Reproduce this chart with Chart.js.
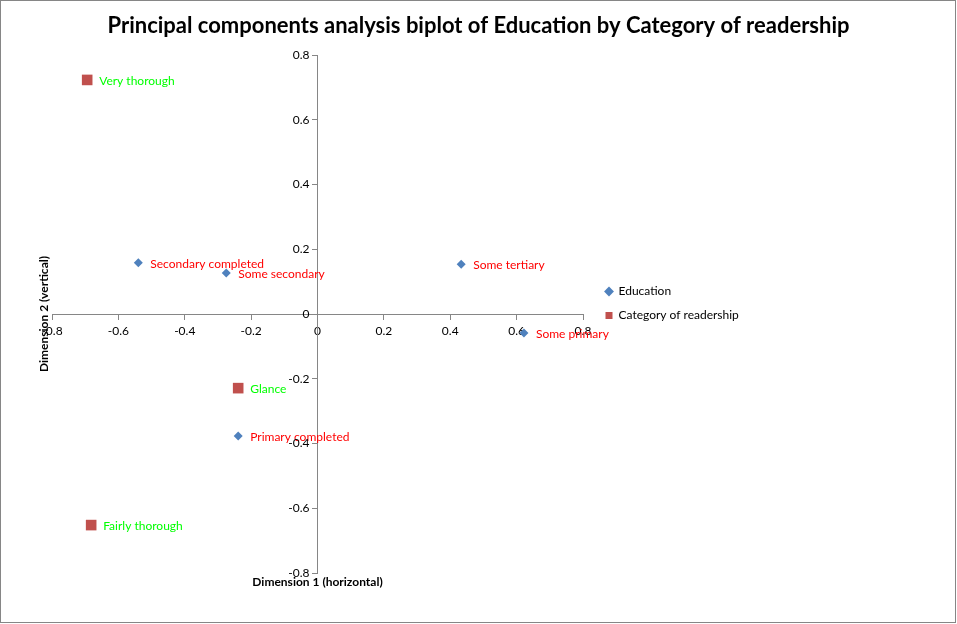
<!DOCTYPE html>
<html>
<head>
<meta charset="utf-8">
<title>PCA biplot</title>
<script src="https://cdn.jsdelivr.net/npm/chart.js@4.4.0/dist/chart.umd.min.js"></script>
<style>
    html, body { margin: 0; padding: 0; background: #fff; }
    #wrap { width: 957px; height: 624px; position: relative; }
</style>
</head>
<body>
<div id="wrap"><canvas id="biplot"></canvas></div>
<script>
// Education categories (blue diamonds)
const educationNames = ['Some primary', 'Primary completed', 'Some secondary', 'Secondary completed', 'Some tertiary'];
const educationX = [0.622, -0.239, -0.275, -0.540, 0.433];
const educationY = [-0.059, -0.377, 0.127, 0.158, 0.154];

// Category of readership (red squares)
const readershipNames = ['Glance', 'Fairly thorough', 'Very thorough'];
const readershipX = [-0.239, -0.682, -0.694];
const readershipY = [-0.229, -0.652, 0.723];

const axisMin = -0.8;
const axisMax = 0.8;
const axisStep = 0.2;

const chartTitle = 'Principal components analysis biplot of Education by Category of readership';
const xTitle = 'Dimension 1 (horizontal)';
const yTitle = 'Dimension 2 (vertical)';

const FONT = 'Lato, "Open Sans", sans-serif';
const PLOT_RIGHT = 583;   // where the x axis ends

function toPoints(xs, ys) {
    return xs.map((x, i) => ({ x: x, y: ys[i] }));
}

// white background + thin frame round the whole chart
const frame = {
    id: 'frame',
    beforeDraw(chart) {
        const ctx = chart.ctx;
        ctx.save();
        ctx.fillStyle = '#fff';
        ctx.fillRect(0, 0, chart.width, chart.height);
        ctx.strokeStyle = '#868686';
        ctx.lineWidth = 1;
        ctx.strokeRect(0.5, 0.5, chart.width - 2, chart.height - 2);
        ctx.restore();
    }
};

// text label to the right of every point
const pointLabels = {
    id: 'pointLabels',
    afterDatasetsDraw(chart) {
        const ctx = chart.ctx;
        ctx.save();
        ctx.font = '12px ' + FONT;
        ctx.textAlign = 'left';
        ctx.textBaseline = 'middle';
        chart.data.datasets.forEach((ds, i) => {
            const meta = chart.getDatasetMeta(i);
            ctx.fillStyle = ds.labelColor;
            meta.data.forEach((pt, j) => {
                ctx.fillText(ds.names[j], pt.x + 12, pt.y + 1);
            });
        });
        ctx.restore();
    }
};

// axis titles and the y tick labels (chart.js puts those flush on a crossing axis)
const axisText = {
    id: 'axisText',
    afterDraw(chart) {
        const { ctx, chartArea } = chart;
        const xs = chart.scales.x;
        const ys = chart.scales.y;
        ctx.save();
        ctx.fillStyle = '#000';

        ctx.font = '12px ' + FONT;
        ctx.textAlign = 'right';
        ctx.textBaseline = 'middle';
        const x0 = xs.getPixelForValue(0);
        ys.ticks.forEach(t => {
            ctx.fillText(t.label, x0 - 8, ys.getPixelForValue(t.value));
        });

        ctx.font = 'bold 12px ' + FONT;
        ctx.textAlign = 'center';
        ctx.fillText(xTitle, (chartArea.left + chartArea.right) / 2, chartArea.bottom + 9);
        ctx.translate(chartArea.left - 8, (chartArea.top + chartArea.bottom) / 2);
        ctx.rotate(-Math.PI / 2);
        ctx.fillText(yTitle, 0, 0);
        ctx.restore();
    }
};

// centre title over the whole canvas and move the legend next to the points
const nudge = {
    id: 'nudge',
    afterLayout(chart) {
        if (chart.titleBlock) {
            chart.titleBlock.left = 0;
            chart.titleBlock.right = chart.width;
            chart.titleBlock.width = chart.width;
        }
        const lg = chart.legend;
        if (lg) {
            lg.left += 10.5; lg.right += 10.5;
            lg.top += 17; lg.bottom += 17;
        }
    }
};

const axisStyle = {
    type: 'linear',
    min: axisMin,
    max: axisMax,
    grid: {
        display: true,
        drawOnChartArea: false,
        drawTicks: true,
        tickLength: 5,
        tickColor: '#868686'
    },
    border: { display: true, color: '#868686', width: 1 },
    ticks: {
        stepSize: axisStep,
        color: '#000',
        font: { family: FONT, size: 12 }
    }
};

const chart = new Chart(document.getElementById('biplot'), {
    type: 'scatter',
    data: {
        datasets: [
            {
                label: 'Education',
                data: toPoints(educationX, educationY),
                names: educationNames,
                labelColor: '#ff0000',
                pointStyle: 'rectRot',
                pointRadius: 4.5,
                pointHoverRadius: 4.5,
                backgroundColor: '#4f81bd',
                borderColor: '#4f81bd',
                borderWidth: 0
            },
            {
                label: 'Category of readership',
                data: toPoints(readershipX, readershipY),
                names: readershipNames,
                labelColor: '#00ff00',
                pointStyle: 'rect',
                pointRadius: 7.5,
                pointHoverRadius: 7.5,
                backgroundColor: '#c0504d',
                borderColor: '#c0504d',
                borderWidth: 0
            }
        ]
    },
    options: {
        responsive: true,
        maintainAspectRatio: false,
        animation: false,
        layout: { padding: { left: 52, right: 220, top: 0, bottom: 51 } },
        plugins: {
            title: {
                display: true,
                text: chartTitle,
                color: '#000',
                font: { family: FONT, size: 22, weight: 'bold', lineHeight: 1.2 },
                padding: { top: 13, bottom: 15.6 }
            },
            legend: {
                position: 'right',
                labels: {
                    usePointStyle: true,
                    boxWidth: 7,
                    boxHeight: 7,
                    padding: 12,
                    color: '#000',
                    font: { family: FONT, size: 12 }
                }
            },
            tooltip: { enabled: false }
        },
        scales: {
            x: Object.assign({}, axisStyle, {
                position: { y: 0 },
                ticks: Object.assign({}, axisStyle.ticks, { padding: 5, maxRotation: 0 })
            }),
            y: Object.assign({}, axisStyle, {
                position: { x: 0 },
                ticks: Object.assign({}, axisStyle.ticks, { display: false })
            })
        }
    },
    plugins: [frame, pointLabels, axisText, nudge]
});

// size the right padding so that the plot ends where the reference's does
chart.options.layout.padding.right = chart.width - PLOT_RIGHT - chart.legend.width;
chart.update();
</script>
</body>
</html>
